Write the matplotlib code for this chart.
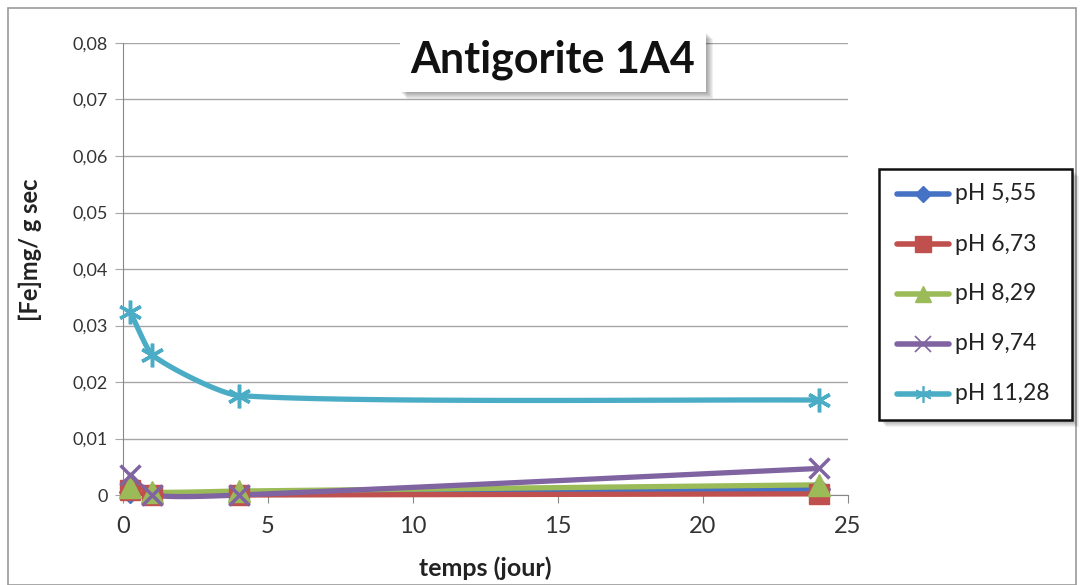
import numpy as np
import matplotlib
matplotlib.use("Agg")
import matplotlib.pyplot as plt
from matplotlib.patches import Rectangle
from matplotlib.lines import Line2D

plt.rcParams['font.family'] = ['Lato', 'DejaVu Sans']

days = [0.25, 1, 4, 24]
series_names = ["pH 5,55", "pH 6,73", "pH 8,29", "pH 9,74", "pH 11,28"]
ph555 = [0.0005, 0.0002, 0.0002, 0.0010]
ph673 = [0.0008, 0.0000, 0.0000, 0.0002]
ph829 = [0.0015, 0.0005, 0.0007, 0.0018]
ph974 = [0.0035, 0.0000, 0.0000, 0.0047]
ph1128 = [0.0324, 0.0248, 0.0176, 0.0168]
values = [ph555, ph673, ph829, ph974, ph1128]
colors = ["#4572c4", "#c0504d", "#9bbb59", "#8064a2", "#4bacc6"]
markers = ["D", "s", "^", "x", (6, 2, 0)]
msizes = [11, 15, 16, 14, 17]
leg_msizes = [8, 11, 11, 11, 12]
yticks = [0, 0.01, 0.02, 0.03, 0.04, 0.05, 0.06, 0.07, 0.08]
xticks = [0, 5, 10, 15, 20, 25]

W, H = 1084, 585


def smooth(x, y, n=40):
    # Cardinal-spline smoothing through the data points (like Excel smoothed lines)
    x = np.asarray(x, float); y = np.asarray(y, float)
    px = np.concatenate([[2 * x[0] - x[1]], x, [2 * x[-1] - x[-2]]])
    py = np.concatenate([[2 * y[0] - y[1]], y, [2 * y[-1] - y[-2]]])
    xs, ys = [], []
    t = np.linspace(0, 1, n)
    h00 = 2 * t**3 - 3 * t**2 + 1
    h10 = t**3 - 2 * t**2 + t
    h01 = -2 * t**3 + 3 * t**2
    h11 = t**3 - t**2
    for i in range(1, len(px) - 2):
        dx = px[i + 1] - px[i]
        s0 = dx / max(px[i + 1] - px[i - 1], 1e-9) * 2 * 0.3
        s1 = dx / max(px[i + 2] - px[i], 1e-9) * 2 * 0.3
        m0x = (px[i + 1] - px[i - 1]) * s0
        m1x = (px[i + 2] - px[i]) * s1
        m0y = (py[i + 1] - py[i - 1]) * s0
        m1y = (py[i + 2] - py[i]) * s1
        xs.append(h00 * px[i] + h10 * m0x + h01 * px[i + 1] + h11 * m1x)
        ys.append(h00 * py[i] + h10 * m0y + h01 * py[i + 1] + h11 * m1y)
    return np.concatenate(xs), np.concatenate(ys)


fig = plt.figure(figsize=(W / 100, H / 100), dpi=100)
ax = fig.add_axes([123 / W, 1 - 495 / H, (848 - 123) / W, (495 - 43) / H])

for name, vals, c, m, ms in zip(series_names, values, colors, markers, msizes):
    sx, sy = smooth(days, vals)
    ax.plot(sx, sy, color=c, lw=3.8, solid_capstyle='round', zorder=3, clip_on=False)
    ax.plot(days, vals, linestyle='none', marker=m, color=c, markersize=ms,
            markeredgewidth=2.5 if m in ("x", (6, 2, 0)) else 1, zorder=4, clip_on=False)

ax.set_xlim(0, 25)
ax.set_ylim(0, 0.08)
ax.set_yticks(yticks)
ax.set_yticklabels(["0" if v == 0 else f"{v:.2f}".replace(".", ",") for v in yticks])
ax.set_xticks(xticks)
ax.set_xticklabels([str(v) for v in xticks])
ax.grid(axis='y', color='#a6a6a6', lw=1)
ax.set_axisbelow(True)
for s in ['top', 'right']:
    ax.spines[s].set_visible(False)
ax.spines['left'].set_color('#888888')
ax.spines['bottom'].set_color('#888888')
ax.tick_params(axis='y', length=6, color='#a6a6a6', labelsize=13, labelcolor='#333333', pad=5)
ax.tick_params(axis='x', length=6, color='#888888', labelsize=17, labelcolor='#333333', pad=9)

fig.text(30 / W, 1 - 250 / H, "[Fe]mg/ g sec", rotation=90, ha='center', va='center',
         fontsize=17, fontweight='bold', color='#222222')
fig.text(485 / W, 1 - 568 / H, "temps (jour)", ha='center', va='center',
         fontsize=18, fontweight='bold', color='#222222')

# outer frame
fig.patches.append(Rectangle((8 / W, 0), (1076 - 8) / W, 1 - 8 / H,
                             transform=fig.transFigure, fill=False, ec='#999999', lw=1.2))


def shadow_box(x0, y0, x1, y1, edge):
    for k in range(7, 0, -1):
        fig.patches.append(Rectangle(((x0 + k) / W, 1 - (y1 + k) / H), (x1 - x0) / W,
                                     (y1 - y0) / H, transform=fig.transFigure,
                                     fc='#000000', alpha=0.055, ec='none', zorder=5))
    fig.patches.append(Rectangle((x0 / W, 1 - y1 / H), (x1 - x0) / W, (y1 - y0) / H,
                                 transform=fig.transFigure, fc='white',
                                 ec=edge if edge else 'none', lw=1.8, zorder=6))


# title box
shadow_box(400, 32, 706, 92, None)
fig.text(553 / W, 1 - 60 / H, "Antigorite 1A4", ha='center', va='center',
         fontsize=31, fontweight='bold', color='#111111', zorder=7)

# legend
shadow_box(879, 169, 1072, 420, '#111111')
leg_y = [194, 244, 294, 344, 394]
for name, c, m, ms, yy in zip(series_names, colors, markers, leg_msizes, leg_y):
    yf = 1 - yy / H
    fig.add_artist(Line2D([897 / W, 949 / W], [yf, yf], transform=fig.transFigure,
                          color=c, lw=4, solid_capstyle='round', zorder=7))
    fig.add_artist(Line2D([923 / W], [yf], transform=fig.transFigure, marker=m,
                          color=c, markersize=ms,
                          markeredgewidth=1.2 if m in ("x", (6, 2, 0)) else 1, zorder=8))
    fig.text(955 / W, yf, name, ha='left', va='center', fontsize=16.5, color='#222222', zorder=8)

fig.savefig("out.png", dpi=100)
